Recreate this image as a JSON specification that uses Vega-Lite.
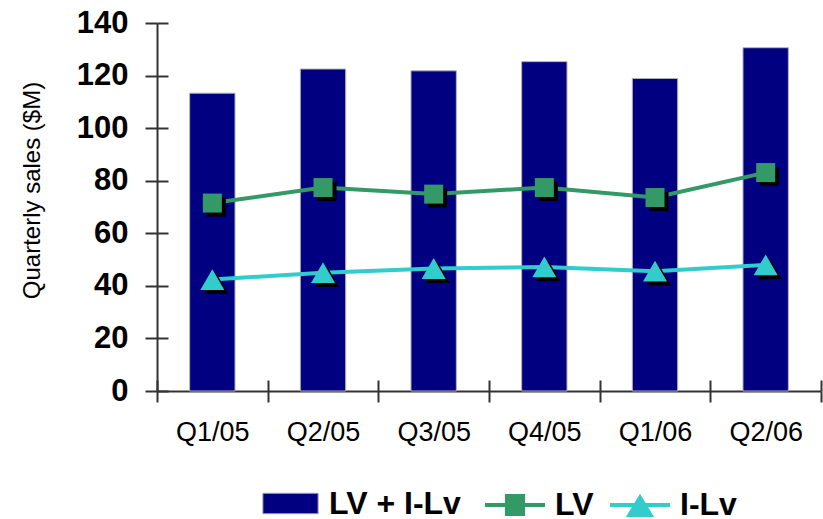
{
  "$schema": "https://vega.github.io/schema/vega-lite/v6.json",
  "width": 664,
  "height": 368,
  "autosize": {"type": "none"},
  "padding": {"left": 157, "top": 23, "right": 2, "bottom": 128},
  "background": "white",
  "config": {"view": {"stroke": null}, "font": "Liberation Sans"},
  "data": {
    "values": [
      {"quarter": "Q1/05", "series": "LV + I-Lv", "value": 113.3},
      {"quarter": "Q2/05", "series": "LV + I-Lv", "value": 122.5},
      {"quarter": "Q3/05", "series": "LV + I-Lv", "value": 121.8},
      {"quarter": "Q4/05", "series": "LV + I-Lv", "value": 125.3},
      {"quarter": "Q1/06", "series": "LV + I-Lv", "value": 118.9},
      {"quarter": "Q2/06", "series": "LV + I-Lv", "value": 130.6},
      {"quarter": "Q1/05", "series": "LV", "value": 71.5},
      {"quarter": "Q2/05", "series": "LV", "value": 77.4},
      {"quarter": "Q3/05", "series": "LV", "value": 74.9},
      {"quarter": "Q4/05", "series": "LV", "value": 77.4},
      {"quarter": "Q1/06", "series": "LV", "value": 73.6},
      {"quarter": "Q2/06", "series": "LV", "value": 83.1},
      {"quarter": "Q1/05", "series": "I-Lv", "value": 42.4},
      {"quarter": "Q2/05", "series": "I-Lv", "value": 45.0},
      {"quarter": "Q3/05", "series": "I-Lv", "value": 46.6},
      {"quarter": "Q4/05", "series": "I-Lv", "value": 47.2},
      {"quarter": "Q1/06", "series": "I-Lv", "value": 45.6},
      {"quarter": "Q2/06", "series": "I-Lv", "value": 48.0}
    ]
  },
  "layer": [
    {
      "transform": [{"filter": "datum.series == 'LV + I-Lv'"}],
      "mark": {"type": "bar", "stroke": "#b4b4b4", "strokeWidth": 1, "opacity": 1, "width": {"band": 0.41}},
      "encoding": {
        "x": {
          "field": "quarter", "type": "nominal", "sort": null,
          "scale": {"paddingInner": 0, "paddingOuter": 0},
          "axis": {
            "title": null, "tickBand": "extent", "tickSize": 11, "tickWidth": 2,
            "tickColor": "#333333", "domainColor": "#333333", "domainWidth": 2,
            "labelFontSize": 27, "labelColor": "black", "labelPadding": 17,
            "labelAngle": 0, "labelFont": "Liberation Sans", "grid": false
          }
        },
        "y": {
          "field": "value", "type": "quantitative",
          "scale": {"domain": [0, 140], "nice": false},
          "axis": {
            "title": "Quarterly sales ($M)", "values": [0, 20, 40, 60, 80, 100, 120, 140],
            "tickSize": 12, "tickWidth": 2, "tickColor": "#333333",
            "domainColor": "#333333", "domainWidth": 2,
            "labelFontSize": 31, "labelFontWeight": "bold", "labelColor": "black",
            "labelFont": "Liberation Sans", "labelPadding": 17,
            "titleFontSize": 24, "titleFontWeight": "normal", "titleColor": "black",
            "titleFont": "Liberation Sans", "titlePadding": 32, "titleY": 167, "grid": false
          }
        },
        "color": {
          "field": "series", "type": "nominal",
          "scale": {"domain": ["LV + I-Lv"], "range": ["#000080"]},
          "legend": {
            "title": null, "orient": "none", "legendX": 103, "legendY": 450, "direction": "horizontal",
            "symbolType": "M-0.92,-0.34H0.92V0.34H-0.92Z", "symbolSize": 3600,
            "symbolStrokeColor": "#a0a0a0", "symbolStrokeWidth": 1,
            "labelFontSize": 32, "labelFontWeight": "bold", "labelFont": "Liberation Sans",
            "labelColor": "black", "labelOffset": 8, "padding": 0
          }
        }
      }
    },
    {
      "transform": [{"filter": "datum.series == 'LV'"}],
      "encoding": {
        "x": {
          "field": "quarter", "type": "nominal", "sort": null,
          "axis": {
            "orient": "bottom", "offset": -11, "tickBand": "extent", "tickSize": 11,
            "tickWidth": 2, "tickColor": "#333333", "domain": false, "labels": false,
            "title": null, "grid": false
          }
        },
        "y": {
          "field": "value", "type": "quantitative",
          "axis": {
            "orient": "left", "offset": -11, "values": [0, 20, 40, 60, 80, 100, 120, 140],
            "tickSize": 11, "tickWidth": 2, "tickColor": "#333333", "domain": false,
            "labels": false, "title": null, "grid": false
          }
        },
        "color": {
          "field": "series", "type": "nominal",
          "scale": {"domain": ["LV"], "range": ["#339966"]},
          "legend": {
            "title": null, "orient": "none", "legendX": 326, "legendY": 450, "direction": "horizontal",
            "symbolType": "M-1,0H1M-0.27,-0.3H0.27V0.3H-0.27Z", "symbolSize": 3600,
            "symbolStrokeColor": "#339966", "symbolFillColor": "#339966", "symbolStrokeWidth": 4,
            "labelFontSize": 32, "labelFontWeight": "bold", "labelFont": "Liberation Sans",
            "labelColor": "black", "labelOffset": 8, "padding": 0
          }
        }
      },
      "layer": [
        {"mark": {"type": "line", "strokeWidth": 4}},
        {
          "mark": {"type": "point", "shape": "square", "filled": true, "size": 361, "opacity": 1, "xOffset": 4, "yOffset": 4},
          "encoding": {"color": {"value": "black"}}
        },
        {"mark": {"type": "point", "shape": "square", "filled": true, "size": 361, "opacity": 1}}
      ]
    },
    {
      "transform": [{"filter": "datum.series == 'I-Lv'"}],
      "encoding": {
        "x": {"field": "quarter", "type": "nominal", "sort": null, "axis": null},
        "y": {"field": "value", "type": "quantitative", "axis": null},
        "color": {
          "field": "series", "type": "nominal",
          "scale": {"domain": ["I-Lv"], "range": ["#33cccc"]},
          "legend": {
            "title": null, "orient": "none", "legendX": 451, "legendY": 450, "direction": "horizontal",
            "symbolType": "M-1,0H1M-0.35,0.33L0,-0.25L0.35,0.33Z", "symbolSize": 3600,
            "symbolStrokeColor": "#33cccc", "symbolFillColor": "#33cccc", "symbolStrokeWidth": 4,
            "labelFontSize": 32, "labelFontWeight": "bold", "labelFont": "Liberation Sans",
            "labelColor": "black", "labelOffset": 8, "padding": 0
          }
        }
      },
      "layer": [
        {"mark": {"type": "line", "strokeWidth": 4}},
        {
          "mark": {"type": "point", "shape": "triangle-up", "filled": true, "size": 576, "opacity": 1, "xOffset": 4, "yOffset": 4},
          "encoding": {"color": {"value": "black"}}
        },
        {"mark": {"type": "point", "shape": "triangle-up", "filled": true, "size": 576, "opacity": 1}}
      ]
    }
  ],
  "resolve": {
    "scale": {"color": "independent"},
    "axis": {"x": "independent", "y": "independent"}
  }
}
